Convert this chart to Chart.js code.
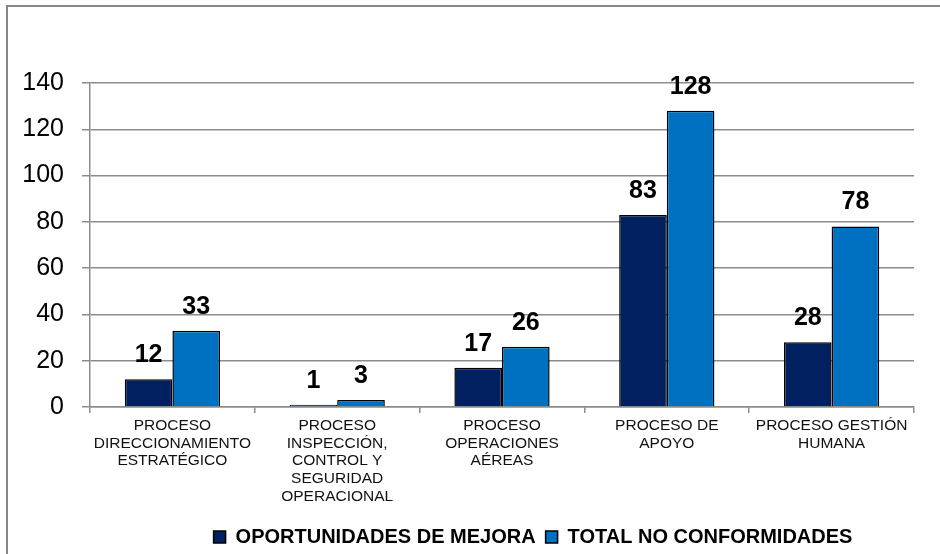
<!DOCTYPE html>
<html>
<head>
<meta charset="utf-8">
<script src="https://cdn.jsdelivr.net/npm/chart.js@4.4.1/dist/chart.umd.min.js"></script>
<style>
  html, body { margin: 0; padding: 0; background: #fff; }
  #wrap { position: relative; width: 940px; height: 554px; overflow: hidden; background: #fff; }
  #frame { position: absolute; left: 6px; top: 5px; width: 1000px; height: 1000px;
           border-left: 2px solid #868686; border-top: 2px solid #868686; box-sizing: border-box; }
  canvas { position: absolute; left: 0; top: 0; }
</style>
</head>
<body>
<div id="wrap">
  <div id="frame"></div>
  <canvas id="c" width="940" height="554"></canvas>
</div>
<script>
const categories = [
  ["PROCESO", "DIRECCIONAMIENTO", "ESTRATÉGICO"],
  ["PROCESO", "INSPECCIÓN,", "CONTROL Y", "SEGURIDAD", "OPERACIONAL"],
  ["PROCESO", "OPERACIONES", "AÉREAS"],
  ["PROCESO DE", "APOYO"],
  ["PROCESO GESTIÓN", "HUMANA"]
];
const seriesNames = ["OPORTUNIDADES DE MEJORA", "TOTAL NO CONFORMIDADES"];
const oportunidades = [12, 1, 17, 83, 28];
const totalNoConformidades = [33, 3, 26, 128, 78];
const yTicks = [0, 20, 40, 60, 80, 100, 120, 140];

const valueLabels = {
  id: 'valueLabels',
  afterDatasetsDraw(chart) {
    const ctx = chart.ctx;
    ctx.save();
    ctx.font = 'bold 25px "Liberation Sans", Arial, sans-serif';
    ctx.fillStyle = '#000';
    ctx.textAlign = 'center';
    ctx.textBaseline = 'alphabetic';
    chart.data.datasets.forEach((ds, di) => {
      chart.getDatasetMeta(di).data.forEach((bar, i) => {
        ctx.fillText(String(ds.data[i]), bar.x, bar.y - 17);
      });
    });
    ctx.restore();
  }
};

const legendShift = {
  id: 'legendShift',
  afterLayout(chart) {
    const lg = chart.legend;
    if (lg) { lg.left += 76; lg.right += 76; lg.top += 3; lg.bottom += 3; }
  }
};

new Chart(document.getElementById('c'), {
  type: 'bar',
  data: {
    labels: categories,
    datasets: [
      { label: seriesNames[0], data: oportunidades, backgroundColor: '#002060', borderColor: '#000', borderWidth: 1.5 },
      { label: seriesNames[1], data: totalNoConformidades, backgroundColor: '#0070C0', borderColor: '#000', borderWidth: 1.5 }
    ]
  },
  options: {
    responsive: false,
    animation: false,
    layout: { padding: { left: 0, right: 26, top: 83, bottom: 0 } },
    datasets: { bar: { categoryPercentage: 0.578, barPercentage: 1.0 } },
    scales: {
      x: {
        grid: { display: true, drawOnChartArea: false, drawTicks: true, tickLength: 6, color: '#8c8c8c', lineWidth: 1.5, offset: true },
        border: { display: true, color: '#8c8c8c', width: 1.5 },
        ticks: { color: '#111', font: { family: '"Liberation Sans", Arial, sans-serif', size: 15.5, lineHeight: 1.14 }, padding: 4, maxRotation: 0, autoSkip: false },
        afterFit(scale) { scale.height = 107; }
      },
      y: {
        min: 0, max: 140,
        afterBuildTicks(scale) { scale.ticks = yTicks.map(v => ({ value: v })); },
        grid: { color: '#8c8c8c', lineWidth: 1.5, tickLength: 8, drawTicks: true },
        border: { display: true, color: '#8c8c8c', width: 1.5 },
        ticks: { color: '#000', font: { family: '"Liberation Sans", Arial, sans-serif', size: 25 }, padding: 18 },
        afterFit(scale) { scale.width = 90; }
      }
    },
    plugins: {
      legend: {
        position: 'bottom',
        labels: {
          boxWidth: 12, boxHeight: 12, padding: 10,
          color: '#000',
          font: { family: '"Liberation Sans", Arial, sans-serif', size: 20, weight: 'bold' }
        }
      },
      tooltip: { enabled: false }
    }
  },
  plugins: [valueLabels, legendShift]
});
</script>
</body>
</html>
